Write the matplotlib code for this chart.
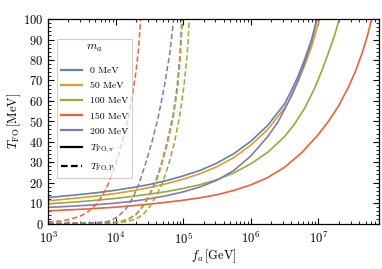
import numpy as np
import matplotlib
matplotlib.use("Agg")
import matplotlib.pyplot as plt
from matplotlib.ticker import MultipleLocator, LogLocator, NullFormatter
from matplotlib.lines import Line2D

plt.rcParams["font.family"] = "serif"
plt.rcParams["font.serif"] = ["cmr10"]
plt.rcParams["mathtext.fontset"] = "cm"
plt.rcParams["axes.formatter.use_mathtext"] = True
plt.rcParams["axes.unicode_minus"] = False

# m_a = 0, 50, 100, 150, 200 MeV
labels = ["0 MeV", "50 MeV", "100 MeV", "150 MeV", "200 MeV"]
colors = ["#5E81B5", "#E19C24", "#8FB032", "#EB6235", "#8778B3"]

# T_FO,pi (solid): log10(f_a / GeV) and T [MeV]
lf_pi_0 = [3.0, 3.25, 3.5, 3.75, 4.0, 4.25, 4.5, 4.75, 5.0, 5.25, 5.5, 5.75, 6.0, 6.25, 6.5, 6.6, 6.7, 6.8, 6.9, 6.98]
T_pi_0 = [12.7, 13.5, 14.3, 15.2, 16.3, 17.6, 19.1, 21.0, 23.3, 26.0, 29.6, 34.2, 40.2, 48.0, 58.5, 65.0, 72.0, 80.5, 90.0, 100.0]

lf_pi_50 = [3.0, 3.25, 3.5, 3.75, 4.0, 4.25, 4.5, 4.75, 5.0, 5.25, 5.5, 5.75, 6.0, 6.25, 6.5, 6.6, 6.7, 6.8, 6.9, 7.02]
T_pi_50 = [11.1, 11.9, 12.7, 13.6, 14.7, 16.0, 17.6, 19.5, 21.7, 24.4, 27.8, 32.3, 38.3, 46.0, 56.5, 62.0, 69.5, 77.5, 86.5, 100.0]

lf_pi_100 = [3.0, 3.25, 3.5, 3.75, 4.0, 4.25, 4.5, 4.75, 5.0, 5.25, 5.5, 5.75, 6.0, 6.25, 6.5, 6.65, 6.8, 6.95, 7.05, 7.15, 7.25, 7.31]
T_pi_100 = [9.6, 10.2, 10.8, 11.5, 12.3, 13.3, 14.4, 15.6, 17.2, 19.0, 21.5, 24.8, 29.2, 34.8, 42.5, 48.8, 56.5, 66.5, 74.5, 83.5, 93.0, 100.0]

lf_pi_150 = [3.0, 3.25, 3.5, 3.75, 4.0, 4.25, 4.5, 4.75, 5.0, 5.25, 5.5, 5.75, 6.0, 6.25, 6.5, 6.75, 7.0, 7.15, 7.3, 7.45, 7.55, 7.65, 7.72, 7.79]
T_pi_150 = [6.2, 6.6, 7.0, 7.5, 8.0, 8.7, 9.5, 10.4, 11.4, 12.6, 14.1, 16.2, 18.9, 22.5, 27.5, 34.5, 43.5, 50.0, 57.5, 67.0, 74.5, 83.5, 91.0, 100.0]

lf_pi_200 = [3.0, 3.25, 3.5, 3.75, 4.0, 4.25, 4.5, 4.75, 5.0, 5.25, 5.5, 5.75, 6.0, 6.25, 6.4, 6.55, 6.7, 6.8, 6.9, 6.98]
T_pi_200 = [7.9, 8.3, 8.8, 9.3, 10.0, 10.9, 12.1, 13.6, 15.5, 17.9, 21.2, 26.0, 33.0, 42.5, 49.5, 59.0, 70.0, 79.0, 89.0, 100.0]

# T_FO,P (dashed)
lf_P_0 = [3.0, 3.59, 3.89, 4.05, 4.19, 4.3, 4.4, 4.5, 4.59, 4.67, 4.76, 4.85, 4.91, 4.95, 4.98]
T_P_0 = [0.0, 0.15, 0.4, 0.9, 2.2, 4.5, 8.5, 14.0, 20.5, 28.5, 39.5, 53.0, 67.0, 82.0, 100.0]

lf_P_50 = [3.0, 3.6, 3.9, 4.06, 4.2, 4.31, 4.41, 4.51, 4.6, 4.68, 4.77, 4.86, 4.92, 4.96, 4.99]
T_P_50 = [0.0, 0.15, 0.4, 0.9, 2.2, 4.5, 8.5, 14.0, 20.5, 28.5, 39.5, 53.0, 67.0, 82.0, 100.0]

lf_P_100 = [3.0, 3.7, 4.0, 4.16, 4.3, 4.41, 4.51, 4.61, 4.7, 4.78, 4.87, 4.95, 5.01, 5.06, 5.09]
T_P_100 = [0.0, 0.15, 0.4, 0.9, 2.2, 4.5, 8.5, 14.0, 20.5, 28.5, 39.5, 53.0, 67.0, 83.0, 100.0]

lf_P_150 = [3.0, 3.1, 3.2, 3.3, 3.4, 3.5, 3.6, 3.7, 3.8, 3.9, 4.0, 4.1, 4.2, 4.25, 4.3, 4.34, 4.37]
T_P_150 = [0.8, 1.0, 1.3, 1.9, 2.8, 4.0, 6.0, 9.0, 13.5, 20.0, 29.0, 40.0, 54.0, 63.0, 74.0, 86.0, 100.0]

lf_P_200 = [3.0, 3.5, 3.7, 3.87, 3.95, 4.04, 4.15, 4.26, 4.35, 4.43, 4.53, 4.63, 4.72, 4.8, 4.86]
T_P_200 = [0.0, 0.15, 0.4, 0.9, 1.8, 3.6, 7.0, 13.0, 20.0, 28.0, 39.0, 52.0, 67.0, 83.0, 100.0]

solid = [(lf_pi_0, T_pi_0), (lf_pi_50, T_pi_50), (lf_pi_100, T_pi_100),
         (lf_pi_150, T_pi_150), (lf_pi_200, T_pi_200)]
dashed = [(lf_P_0, T_P_0), (lf_P_50, T_P_50), (lf_P_100, T_P_100),
          (lf_P_150, T_P_150), (lf_P_200, T_P_200)]

fig = plt.figure(figsize=(3.82, 2.69), dpi=100)
ax = fig.add_axes([0.126, 0.169, 0.865, 0.760])

for (lf, T), c in zip(solid, colors):
    ax.plot(10**np.array(lf), T, color=c, lw=1.2)
for (lf, T), c in zip(dashed, colors):
    ax.plot(10**np.array(lf), T, color=c, lw=1.1, ls=(0, (3.5, 1.8)))

ax.set_xscale("log")
ax.set_xlim(1e3, 7.8e7)
ax.set_ylim(0, 100)

ax.yaxis.set_major_locator(MultipleLocator(10))
ax.yaxis.set_minor_locator(MultipleLocator(2))
ax.xaxis.set_major_locator(LogLocator(base=10, numticks=10))
ax.xaxis.set_minor_locator(LogLocator(base=10, subs=np.arange(2, 10), numticks=20))
ax.xaxis.set_minor_formatter(NullFormatter())
ax.tick_params(which="both", direction="in", top=True, right=True, labelsize=9)
ax.tick_params(axis="x", which="major", pad=5.5)
ax.tick_params(which="major", length=4, width=0.8)
ax.tick_params(which="minor", length=2, width=0.6)
for s in ax.spines.values():
    s.set_linewidth(0.9)

ax.set_xlabel(r"$f_a\,[\mathrm{GeV}]$", fontsize=9, labelpad=0)
ax.set_ylabel(r"$T_{\mathrm{FO}}\,[\mathrm{MeV}]$", fontsize=9, labelpad=0)

handles = [Line2D([], [], color=c, lw=1.6) for c in colors]
handles += [Line2D([], [], color="k", lw=1.6),
            Line2D([], [], color="k", lw=1.6, ls=(0, (3, 1.5)))]
leg_labels = labels + [r"$T_{\mathrm{FO},\pi}$", r"$T_{\mathrm{FO,P}}$"]
leg = ax.legend(handles, leg_labels, title=r"$m_a$", loc="upper left",
                bbox_to_anchor=(0.026, 0.905), borderaxespad=0, fontsize=7,
                title_fontsize=8.5, fancybox=False, framealpha=0.7,
                edgecolor="#bbbbbb", handlelength=2.2, labelspacing=0.65)
leg.get_frame().set_linewidth(0.8)
leg._legend_box.sep = 9  # a bit more room under the title

fig.savefig("out.png", dpi=100)
